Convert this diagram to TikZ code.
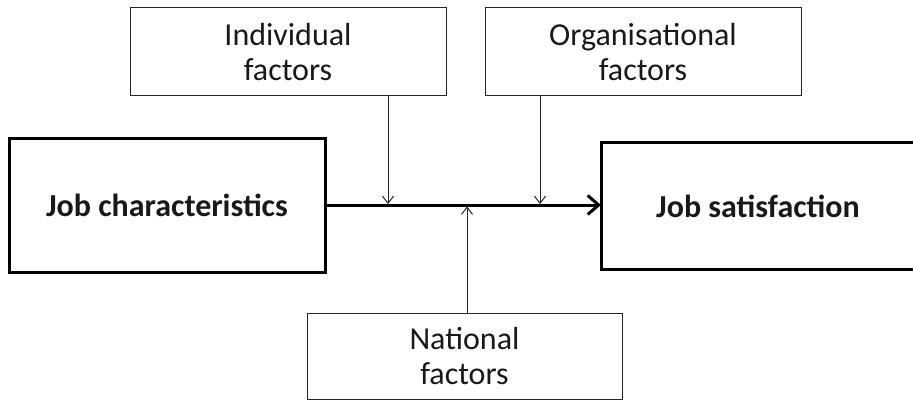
\documentclass[tikz,border=0pt]{standalone}
\usepackage{fontspec}
\setmainfont{Carlito}
\usetikzlibrary{arrows.meta}
\begin{document}
\begin{tikzpicture}[x=1pt,y=-1pt,
  thinbox/.style={draw=black!85,line width=1pt,inner sep=0pt,outer sep=0pt,align=center,
    font=\fontsize{32}{35}\selectfont,text=black!90},
  thickbox/.style={draw=black,line width=3pt,inner sep=0pt,outer sep=0pt,align=center,
    font=\fontsize{32}{35}\selectfont\bfseries,text=black!90},
  mainarrow/.style={line width=3pt,-{Straight Barb[length=11pt,width=19pt,line width=3pt]}},
  smallarrow/.style={line width=1pt,draw=black!85,-{Straight Barb[length=7pt,width=11pt,line width=1pt]}}]
\useasboundingbox (0,0) rectangle (913,401);
\node[thinbox,minimum width=316pt,minimum height=88pt] (ind) at (288,52) {Individual\\factors};
\node[thinbox,minimum width=316pt,minimum height=88pt] (org) at (643,52) {Organisational\\factors};
\node[thickbox,minimum width=316pt,minimum height=133pt] (jc) at (167,205.5) {Job characteristics};
\node[thickbox,minimum width=314pt,minimum height=126pt] (js) at (758,206) {Job satisfaction};
\node[thinbox,minimum width=315pt,minimum height=86pt] (nat) at (464.5,356) {National\\factors};
\coordinate (m1) at (388,204);
\coordinate (m2) at (540,204);
\coordinate (m3) at (467,206.5);
\draw[mainarrow] (jc.east |- 0,205) -- (js.west |- 0,205);
\draw[smallarrow] (ind.south -| m1) -- (m1);
\draw[smallarrow] (org.south -| m2) -- (m2);
\draw[smallarrow] (nat.north -| m3) -- (m3);
\end{tikzpicture}
\end{document}
